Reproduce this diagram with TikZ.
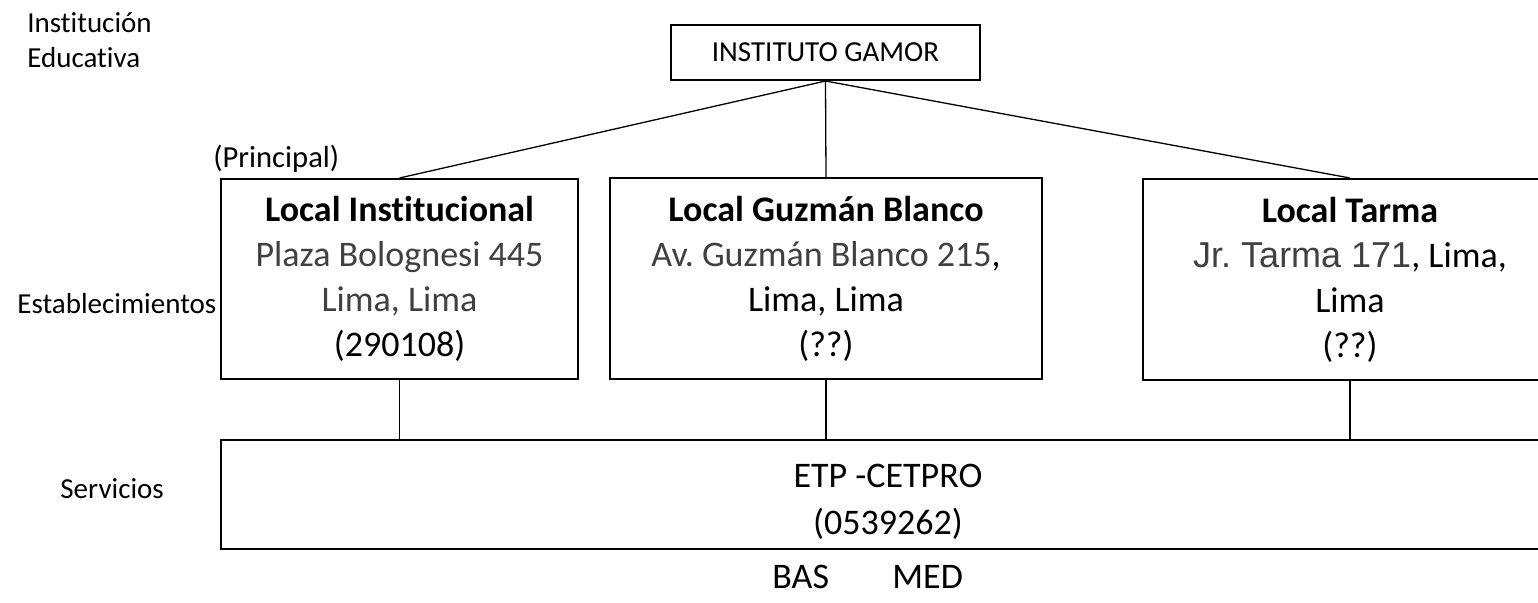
\documentclass[tikz,border=0pt]{standalone}
\usepackage{fontspec}
\setmainfont{Carlito}[Ligatures=NoCommon]
\newfontfamily\arialfont{Liberation Sans}
\definecolor{addr}{RGB}{64,64,64}
\frenchspacing
\tikzset{
  box/.style={draw=black, line width=1pt, inner sep=0pt, align=center,
    font=\fontsize{18}{22.5}\selectfont},
  lbl/.style={inner sep=0pt, anchor=base west, font=\fontsize{14.5}{17.5}\selectfont},
  conn/.style={draw=black, line width=0.65pt},
}
\begin{document}
\begin{tikzpicture}[x=0.5pt,y=-0.5pt]
\useasboundingbox (0,0) rectangle (1538,602);
% labels
\node[lbl] (lie1) at (27,32) {Institución};
\node[lbl] (lie2) at (27,67) {Educativa};
\node[lbl, font=\fontsize{15.3}{18}\selectfont] (lpr) at (213,167) {(Principal)};
\node[lbl] (les) at (17,313) {Establecimientos};
\node[lbl] (lse) at (60,498) {Servicios};
% boxes
\node[box, minimum width=154.5pt, minimum height=27.5pt, font=\fontsize{14.5}{17.5}\selectfont] (top) at (825.5,52.5) {INSTITUTO GAMOR};
\node[box, minimum width=178.5pt, minimum height=100pt] (loc1) at (399.5,279)
  {\textbf{Local Institucional}\\\textcolor{addr}{Plaza Bolognesi 445}\\\textcolor{addr}{Lima, Lima}\\(290108)};
\node[box, minimum width=216pt, minimum height=100.5pt] (loc2) at (826,278.5)
  {\textbf{Local Guzmán Blanco}\\\textcolor{addr}{Av. Guzmán Blanco 215},\\Lima, Lima\\(??)};
\node[box, minimum width=207pt, minimum height=100.5pt] (loc3) at (1350,279.5)
  {\textbf{Local Tarma}\\{\arialfont\color{addr}Jr. Tarma 171}, Lima,\\Lima\\(??)};
\node[box, minimum width=667pt, minimum height=54.5pt] (etp) at (888,494.5) {};
\node[inner sep=0pt, align=center, font=\fontsize{18}{23.5}\selectfont] (etptxt) at (888,502)
  {ETP -CETPRO\\(0539262)};
\node[inner sep=0pt, anchor=base west, font=\fontsize{18}{22}\selectfont] (bas) at (772,588) {BAS};
\node[inner sep=0pt, anchor=base west, font=\fontsize{18}{22}\selectfont] (med) at (892,588) {MED};
% connectors
\draw[conn] (top.south) -- (loc1.north);
\draw[conn] (top.south) -- (loc2.north);
\draw[conn] (top.south) -- (loc3.north);
\draw[conn] (loc1.south) -- (loc1.south |- etp.north);
\draw[conn] (loc2.south) -- (loc2.south |- etp.north);
\draw[conn] (loc3.south) -- (loc3.south |- etp.north);
\end{tikzpicture}
\end{document}
